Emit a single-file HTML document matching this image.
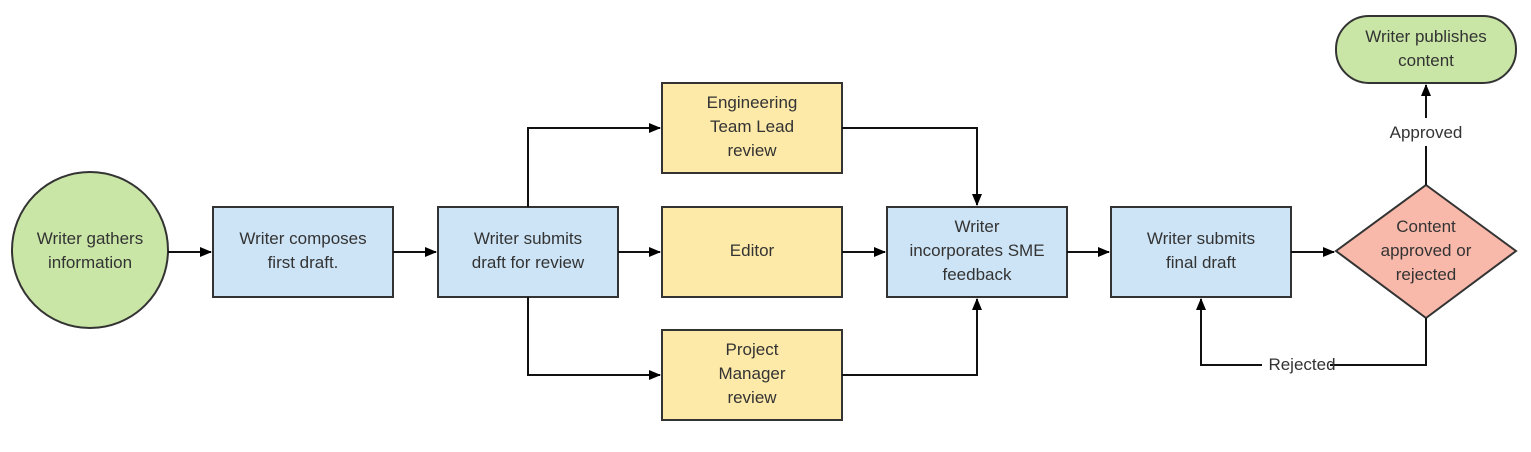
<!DOCTYPE html>
<html><head><meta charset="utf-8"><style>
html,body{margin:0;padding:0;background:#fff;}
svg text{font-family:"Liberation Sans",sans-serif;font-size:17px;fill:#333;text-anchor:middle;}
</style></head><body>
<svg width="1531" height="447" xmlns="http://www.w3.org/2000/svg">
<defs><marker id="a" markerWidth="12" markerHeight="10" refX="11" refY="5" orient="auto" markerUnits="userSpaceOnUse"><path d="M0,0 L12,5 L0,10 z" fill="#000"/></marker></defs>
<g stroke="#333" stroke-width="2">
<circle cx="90" cy="250" r="78" fill="#c9e6a6"/>
<rect x="213" y="207" width="180" height="90" fill="#cde4f6"/>
<rect x="438" y="207" width="180" height="90" fill="#cde4f6"/>
<rect x="662" y="83" width="180" height="90" fill="#fde9a8"/>
<rect x="662" y="207" width="180" height="90" fill="#fde9a8"/>
<rect x="662" y="330" width="180" height="90" fill="#fde9a8"/>
<rect x="887" y="207" width="180" height="90" fill="#cde4f6"/>
<rect x="1111" y="207" width="180" height="90" fill="#cde4f6"/>
<polygon points="1426,185 1516,251 1426,318 1336,251" fill="#f8b8aa"/>
<rect x="1336" y="16" width="180" height="67" rx="33" fill="#c9e6a6"/>
</g>
<g stroke="#111" stroke-width="2" fill="none">
<line x1="168" y1="252" x2="211" y2="252" marker-end="url(#a)"/>
<line x1="393" y1="252" x2="436" y2="252" marker-end="url(#a)"/>
<line x1="618" y1="252" x2="660" y2="252" marker-end="url(#a)"/>
<polyline points="528,207 528,128 660,128" marker-end="url(#a)"/>
<polyline points="528,297 528,375 660,375" marker-end="url(#a)"/>
<line x1="842" y1="252" x2="885" y2="252" marker-end="url(#a)"/>
<polyline points="842,128 977,128 977,205" marker-end="url(#a)"/>
<polyline points="842,375 977,375 977,299" marker-end="url(#a)"/>
<line x1="1067" y1="252" x2="1109" y2="252" marker-end="url(#a)"/>
<line x1="1291" y1="252" x2="1334" y2="252" marker-end="url(#a)"/>
<line x1="1426" y1="185" x2="1426" y2="146"/>
<line x1="1426" y1="118" x2="1426" y2="85" marker-end="url(#a)"/>
<polyline points="1426,318 1426,365 1330,365"/>
<polyline points="1262,365 1201,365 1201,299" marker-end="url(#a)"/>
</g>
<text x="90" y="244">Writer gathers</text><text x="90" y="268">information</text>
<text x="303" y="244">Writer composes</text><text x="303" y="268">first draft.</text>
<text x="528" y="244">Writer submits</text><text x="528" y="268">draft for review</text>
<text x="752" y="108">Engineering</text><text x="752" y="132">Team Lead</text><text x="752" y="156">review</text>
<text x="752" y="256">Editor</text>
<text x="752" y="355">Project</text><text x="752" y="379">Manager</text><text x="752" y="403">review</text>
<text x="977" y="232">Writer</text><text x="977" y="256">incorporates SME</text><text x="977" y="280">feedback</text>
<text x="1201" y="244">Writer submits</text><text x="1201" y="268">final draft</text>
<text x="1426" y="232">Content</text><text x="1426" y="256">approved or</text><text x="1426" y="280">rejected</text>
<text x="1426" y="42">Writer publishes</text><text x="1426" y="66">content</text>
<text x="1426" y="138">Approved</text>
<text x="1302" y="370">Rejected</text>
</svg>
</body></html>
